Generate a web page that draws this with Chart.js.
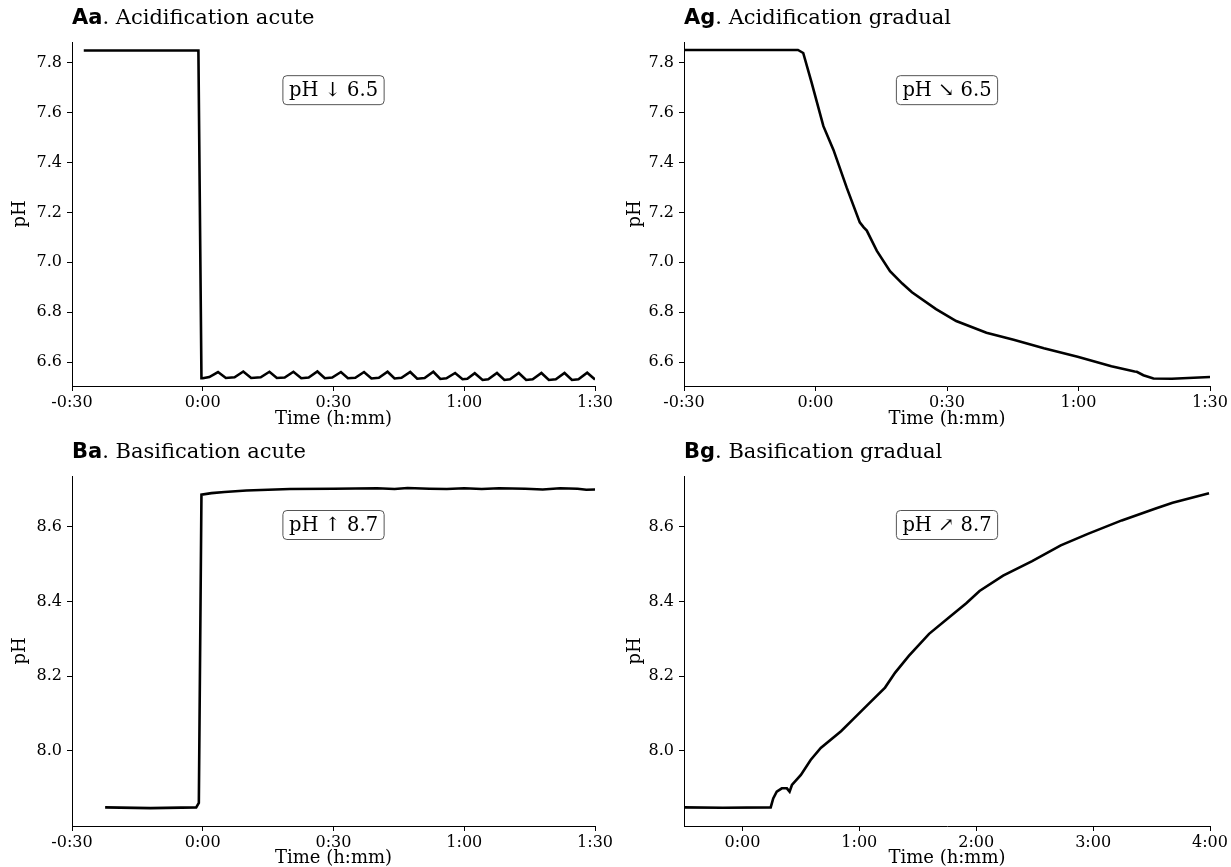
<!DOCTYPE html>
<html>
<head>
<meta charset="utf-8">
<script src="https://cdn.jsdelivr.net/npm/chart.js@4.4.1/dist/chart.umd.min.js"></script>
<style>
    html, body { margin: 0; padding: 0; background: #fff; overflow: hidden; }
    #wrap { position: relative; width: 1231px; height: 867px; }
    canvas { position: absolute; }
</style>
</head>
<body>
<div id="wrap">
    <canvas id="aa" width="615" height="430" style="left:0;top:0"></canvas>
    <canvas id="ag" width="616" height="430" style="left:615px;top:0"></canvas>
    <canvas id="ba" width="615" height="433" style="left:0;top:436px"></canvas>
    <canvas id="bg" width="616" height="433" style="left:615px;top:436px"></canvas>
</div>
<script>
// time in minutes relative to the start of the treatment, pH values
const AA_TIME = [-27.3, -1.0, -0.3, 0.0, 1.5, 3.5, 5.3, 7.3, 9.3, 11.1, 13.3, 15.3, 17.0, 18.8, 20.8, 22.6, 24.3, 26.3,
    28.0, 29.7, 31.7, 33.3, 35.0, 37.0, 38.7, 40.4, 42.4, 44.0, 45.6, 47.6, 49.2, 50.9, 52.9, 54.5, 55.9, 57.9,
    59.6, 60.7, 62.4, 64.2, 65.5, 67.5, 69.2, 70.5, 72.5, 74.2, 75.7, 77.7, 79.4, 81.0, 83.0, 84.7, 86.2, 88.2, 90.0];
const AA_PH = [7.848, 7.848, 6.536, 6.536, 6.541, 6.561, 6.537, 6.540, 6.563, 6.537, 6.540, 6.562, 6.537, 6.539, 6.562, 6.536, 6.539, 6.563,
    6.536, 6.539, 6.561, 6.536, 6.538, 6.561, 6.535, 6.538, 6.562, 6.535, 6.538, 6.561, 6.534, 6.537, 6.562, 6.533, 6.536, 6.557,
    6.532, 6.534, 6.556, 6.529, 6.532, 6.557, 6.529, 6.532, 6.557, 6.529, 6.532, 6.557, 6.529, 6.532, 6.557, 6.529, 6.532, 6.558, 6.531];

const AG_TIME = [-30, -4.0, -2.8, -0.9, 1.8, 4.1, 7.1, 10.1, 11.0, 11.7, 14.0, 17.0, 19.8, 22.0, 27.5, 32.1, 39.0, 45.2,
    52.1, 59.8, 67.5, 72.8, 73.3, 74.8, 77.1, 81.3, 90.0];
const AG_PH = [7.850, 7.850, 7.838, 7.720, 7.545, 7.450, 7.300, 7.160, 7.140, 7.127, 7.046, 6.965, 6.915, 6.880, 6.813, 6.765, 6.718, 6.690,
    6.656, 6.622, 6.584, 6.563, 6.562, 6.548, 6.535, 6.534, 6.541];

const BA_TIME = [-22.4, -12, -1.5, -0.9, -0.3, 2, 5, 10, 15, 20, 30, 40, 44, 47, 52, 56, 60, 64, 68, 74, 78, 82, 86, 88, 90];
const BA_PH = [7.848, 7.846, 7.848, 7.860, 8.686, 8.690, 8.693, 8.697, 8.699, 8.701, 8.702, 8.703, 8.701, 8.704, 8.702, 8.701,
    8.703, 8.701, 8.703, 8.702, 8.700, 8.703, 8.702, 8.699, 8.700];

const BG_TIME = [-30, -10, 14.5, 15.8, 17.6, 20.2, 22.8, 24.2, 25.4, 30, 35, 40.2, 50.6, 57, 64.5, 73.2, 78.4, 85.4, 95.8,
    106.3, 114.9, 121.7, 133.8, 148.7, 163.4, 177.3, 194.7, 212.1, 220.8, 239.5];
const BG_PH = [7.848, 7.847, 7.848, 7.872, 7.890, 7.899, 7.899, 7.890, 7.908, 7.935, 7.975, 8.007, 8.052, 8.085, 8.124, 8.169, 8.209, 8.254, 8.313,
    8.358, 8.395, 8.428, 8.469, 8.508, 8.550, 8.581, 8.617, 8.649, 8.664, 8.690];

// tick positions
const X_TICKS_SHORT = [-30, 0, 30, 60, 90];
const X_TICKS_LONG = [0, 60, 120, 180, 240];
const Y_TICKS_ACID = [6.6, 6.8, 7.0, 7.2, 7.4, 7.6, 7.8];
const Y_TICKS_BASE = [8.0, 8.2, 8.4, 8.6];

const SERIF = '"DejaVu Serif", serif';

function fmtTime(v) {
    const a = Math.abs(v);
    const h = Math.floor(a / 60);
    const m = Math.round(a % 60);
    return (v < 0 ? '-' : '') + h + ':' + String(m).padStart(2, '0');
}

// panel title (bold tag + serif text) and the boxed note
const panelDecor = {
    id: 'panelDecor',
    afterDraw(chart, args, opts) {
        const { ctx, chartArea: a } = chart;
        ctx.save();
        ctx.fillStyle = '#000';
        ctx.textBaseline = 'middle';
        ctx.textAlign = 'left';
        const ty = a.top - 23;
        ctx.font = 'bold 21px "DejaVu Sans"';
        ctx.fillText(opts.tag, a.left, ty);
        const tagW = ctx.measureText(opts.tag).width;
        ctx.font = '21px ' + SERIF;
        ctx.fillText(opts.title, a.left + tagW, ty);

        ctx.font = '19.5px ' + SERIF;
        const tw = ctx.measureText(opts.note).width;
        const cx = (a.left + a.right) / 2;
        const cy = a.top + (a.bottom - a.top) * 0.14;
        const bw = tw + 12, bh = 29;
        ctx.beginPath();
        ctx.roundRect(cx - bw / 2, cy - bh / 2, bw, bh, 4);
        ctx.fillStyle = '#fff';
        ctx.fill();
        ctx.strokeStyle = '#555';
        ctx.lineWidth = 1;
        ctx.stroke();
        ctx.fillStyle = '#000';
        ctx.textAlign = 'center';
        ctx.fillText(opts.note, cx, cy + 1);
        ctx.restore();
    }
};

function makePanel(id, cfg) {
    const points = cfg.time.map((t, i) => ({ x: t, y: cfg.ph[i] }));
    return new Chart(document.getElementById(id), {
        type: 'line',
        data: {
            datasets: [{
                data: points,
                borderColor: '#000',
                borderWidth: 2.6,
                pointRadius: 0,
                tension: 0,
                fill: false
            }]
        },
        options: {
            responsive: false,
            animation: false,
            layout: { padding: { top: cfg.top, right: cfg.right, left: 0, bottom: 0 } },
            plugins: {
                legend: { display: false },
                tooltip: { enabled: false },
                panelDecor: { tag: cfg.tag, title: cfg.title, note: cfg.note }
            },
            scales: {
                x: {
                    type: 'linear',
                    min: cfg.xMin,
                    max: cfg.xMax,
                    afterBuildTicks: s => { s.ticks = cfg.xTicks.map(v => ({ value: v })); },
                    afterFit: s => { s.height = cfg.xHeight; },
                    grid: { drawOnChartArea: false, tickLength: 5, tickColor: '#000', color: '#000' },
                    border: { color: '#000', width: 1 },
                    ticks: { color: '#000', font: { family: SERIF, size: 16 }, padding: 2, maxRotation: 0, autoSkip: false, callback: v => fmtTime(v) },
                    title: { display: true, text: 'Time (h:mm)', color: '#000', font: { family: SERIF, size: 18 }, padding: 0 }
                },
                y: {
                    type: 'linear',
                    min: cfg.yMin,
                    max: cfg.yMax,
                    afterBuildTicks: s => { s.ticks = cfg.yTicks.map(v => ({ value: v })); },
                    afterFit: s => { s.width = cfg.yWidth; },
                    grid: { drawOnChartArea: false, tickLength: 5, tickColor: '#000', color: '#000' },
                    border: { color: '#000', width: 1 },
                    ticks: { color: '#000', font: { family: SERIF, size: 16 }, padding: 5, callback: v => v.toFixed(1) },
                    title: { display: true, text: 'pH', color: '#000', font: { family: SERIF, size: 18 }, padding: { top: 10, bottom: 0 } }
                }
            }
        },
        plugins: [panelDecor]
    });
}

makePanel('aa', {
    time: AA_TIME, ph: AA_PH, tag: 'Aa', title: '. Acidification acute', note: 'pH \u2193 6.5',
    xMin: -30, xMax: 90, xTicks: X_TICKS_SHORT, yMin: 6.505, yMax: 7.882, yTicks: Y_TICKS_ACID,
    top: 42, right: 17, yWidth: 72, xHeight: 44
});
makePanel('ag', {
    time: AG_TIME, ph: AG_PH, tag: 'Ag', title: '. Acidification gradual', note: 'pH \u2198 6.5',
    xMin: -30, xMax: 90, xTicks: X_TICKS_SHORT, yMin: 6.505, yMax: 7.882, yTicks: Y_TICKS_ACID,
    top: 42, right: 21, yWidth: 69, xHeight: 44
});
makePanel('ba', {
    time: BA_TIME, ph: BA_PH, tag: 'Ba', title: '. Basification acute', note: 'pH \u2191 8.7',
    xMin: -30, xMax: 90, xTicks: X_TICKS_SHORT, yMin: 7.798, yMax: 8.736, yTicks: Y_TICKS_BASE,
    top: 40, right: 17, yWidth: 72, xHeight: 43
});
makePanel('bg', {
    time: BG_TIME, ph: BG_PH, tag: 'Bg', title: '. Basification gradual', note: 'pH \u2197 8.7',
    xMin: -30, xMax: 240, xTicks: X_TICKS_LONG, yMin: 7.798, yMax: 8.736, yTicks: Y_TICKS_BASE,
    top: 40, right: 21, yWidth: 69, xHeight: 43
});
</script>
</body>
</html>
